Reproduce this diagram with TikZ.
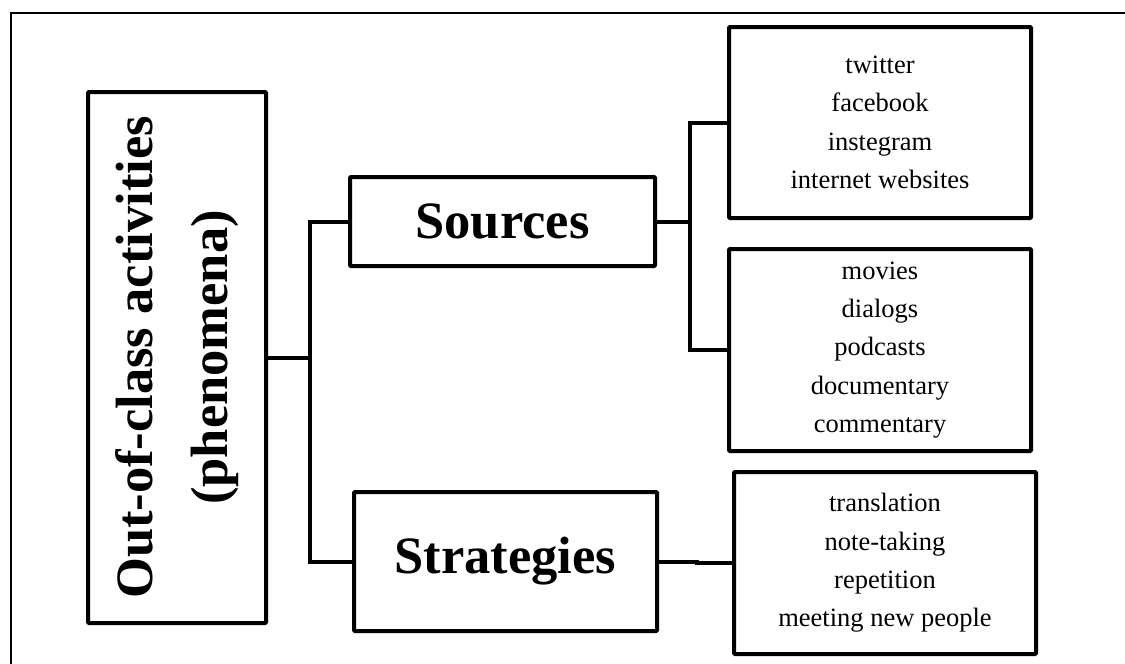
\documentclass[tikz,border=0pt]{standalone}
\usepackage{fontspec}
\setmainfont{Liberation Serif}
\begin{document}
\begin{tikzpicture}[x=1pt,y=-1pt,
  box/.style={draw=black, line width=4pt, rounded corners=1pt, inner sep=0pt, anchor=center},
  conn/.style={draw=black, line width=4pt},
  bigtext/.style={font=\fontsize{52.5}{75}\selectfont\bfseries},
  listtext/.style={font=\fontsize{26.5}{38.3}\selectfont, align=center}]
\useasboundingbox (0,0) rectangle (1125,664);
% outer frame
\draw[line width=1.3pt] (11,664) -- (11,13) -- (1125,13);
% nodes
\node[box, minimum width=178pt, minimum height=531pt] (main) at (177,357.5) {};
\node[rotate=90, align=center, bigtext, inner sep=0pt] (maintext) at (main.center) {Out-of-class activities\\(phenomena)};
\node[box, minimum width=305pt, minimum height=89pt, bigtext] (src) at (502.5,221.5) {Sources};
\node[box, minimum width=303pt, minimum height=139pt, bigtext] (str) at (505.5,561.5) {Strategies};
\node[box, minimum width=302pt, minimum height=191pt, listtext] (b1) at (880,122.5) {twitter\\facebook\\instegram\\internet websites};
\node[box, minimum width=302pt, minimum height=202pt, listtext] (b2) at (880,350) {movies\\dialogs\\podcasts\\documentary\\commentary};
\node[box, minimum width=302pt, minimum height=182pt, listtext] (b3) at (885,563) {translation\\note-taking\\repetition\\meeting new people};
% junction coordinates
\coordinate (j1) at (310,358);
\coordinate (j2) at (690,221.5);
\coordinate (j3) at (697,561.5);
% connectors
\draw[conn] (main.east |- j1) -- (j1);
\draw[conn] (src.west) -| (j1) |- (str.west);
\draw[conn] (src.east) -- (j2);
\draw[conn] (b1.west) -| (j2) |- (b2.west);
\draw[conn] (str.east) -- (j3) |- (b3.west);
\end{tikzpicture}
\end{document}
